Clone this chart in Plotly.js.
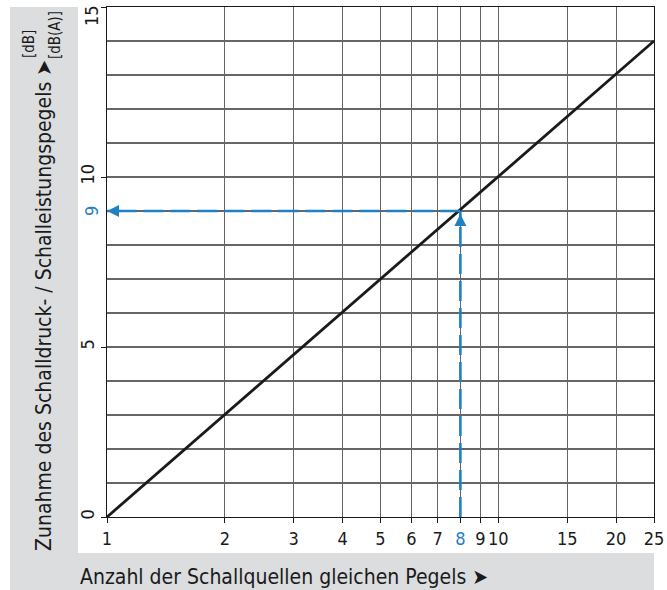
<!DOCTYPE html>
<html>
<head>
<meta charset="utf-8">
<script src="https://cdn.plot.ly/plotly-3.0.1.min.js"></script>
<style>html,body{margin:0;padding:0;background:#fff}#chart{width:667px;height:590px}</style>
</head>
<body>
<div id="chart"></div>
<script>
// Data
const lineX = [1, 25];            // number of sources
const lineY = [0, 14];            // level increase [dB]
const exampleX = 8;               // example: 8 sources
const exampleY = 9;               // -> +9 dB
const xTicks = [1, 2, 3, 4, 5, 6, 7, 8, 9, 10, 15, 20, 25];
const yTicks = [0, 5, 10, 15];
const yTitle = "Zunahme des Schalldruck- / Schalleistungspegels \u27A4";
const xTitle = "Anzahl der Schallquellen gleichen Pegels \u27A4";
const unit1 = "[dB]";
const unit2 = "[dB(A)]";

const FONT = '"Liberation Sans Narrow", "DejaVu Sans Condensed", "Roboto Condensed", Arial, sans-serif';
const BLUE = '#1f80c4';
const GREY = '#dcdddf';
const INK = '#1a1a1a';

const xTickText = xTicks.map(v => v === exampleX ? `<span style="color:${BLUE}">${v}</span>` : String(v));
const yTopTick = yTicks[yTicks.length - 1];
const yTickText = yTicks.map(v => v === yTopTick ? '' : String(v));

const traces = [
  {x: lineX, y: lineY, mode: 'lines', line: {color: INK, width: 2.8}, hoverinfo: 'skip'},
  {x: [exampleX, lineX[0]], y: [exampleY, exampleY], mode: 'lines',
   line: {color: BLUE, width: 2.6, dash: '20px,7px'}, hoverinfo: 'skip'},
  {x: [exampleX, exampleX], y: [lineY[0], exampleY], mode: 'lines',
   line: {color: BLUE, width: 2.6, dash: '20px,7px'}, hoverinfo: 'skip'}
];

// plot geometry (px)
const L = 107, R = 13, T = 7, B = 73, W = 667, H = 590;
const pw = W - L - R, ph = H - T - B;
const px2x = p => (p - L) / pw;
const py2y = p => (H - B - p) / ph;

const layout = {
  width: W, height: H,
  margin: {l: L, r: R, t: T, b: B, pad: 0},
  paper_bgcolor: '#ffffff', plot_bgcolor: '#ffffff',
  showlegend: false,
  font: {family: FONT, color: INK, size: 16},
  xaxis: {
    type: 'log', range: [Math.log10(lineX[0]), Math.log10(lineX[1])],
    tickmode: 'array', tickvals: xTicks, ticktext: xTickText,
    showgrid: true, gridcolor: '#666666', gridwidth: 1.1,
    showline: true, linecolor: INK, linewidth: 1.2, mirror: true,
    ticks: 'outside', ticklen: 5, tickcolor: INK,
    tickfont: {family: FONT, size: 18, color: INK},
    zeroline: false, fixedrange: true
  },
  yaxis: {
    range: [0, 15],
    tickmode: 'array', tickvals: yTicks, ticktext: yTickText,
    tickangle: -90,
    showgrid: true, gridcolor: '#666666', gridwidth: 1.1,
    minor: {dtick: 1, showgrid: true, gridcolor: '#666666', gridwidth: 1.1, ticks: ''},
    showline: true, linecolor: INK, linewidth: 1.2, mirror: true,
    ticks: 'outside', ticklen: 5, tickcolor: INK,
    tickfont: {family: FONT, size: 18, color: INK},
    zeroline: false, fixedrange: true
  },
  shapes: [
    {type: 'rect', xref: 'paper', yref: 'paper', layer: 'below',
     x0: px2x(10), x1: px2x(78), y0: py2y(590), y1: py2y(7),
     fillcolor: GREY, line: {width: 0}},
    {type: 'rect', xref: 'paper', yref: 'paper', layer: 'below',
     x0: px2x(10), x1: px2x(654), y0: py2y(590), y1: py2y(553),
     fillcolor: GREY, line: {width: 0}}
  ],
  annotations: [
    // arrowheads of the example
    {x: Math.log10(lineX[0]), y: exampleY, xref: 'x', yref: 'y', ax: 14, ay: 0,
     showarrow: true, arrowhead: 2, arrowsize: 1, arrowwidth: 2.4, arrowcolor: BLUE, text: ''},
    {x: Math.log10(exampleX), y: exampleY, xref: 'x', yref: 'y', ax: 0, ay: 14,
     showarrow: true, arrowhead: 2, arrowsize: 1, arrowwidth: 2.4, arrowcolor: BLUE, text: '', standoff: 3},
    // blue 9 tick label
    {x: 0, y: exampleY, xref: 'paper', yref: 'y', xshift: -16, text: String(exampleY), textangle: -90,
     showarrow: false, font: {family: FONT, size: 18, color: BLUE}, xanchor: 'center', yanchor: 'middle'},
    // top tick label 15 (kept inside the picture)
    {x: 0, y: 1, xref: 'paper', yref: 'paper', xshift: -16, yshift: -9, text: String(yTopTick), textangle: -90,
     showarrow: false, font: {family: FONT, size: 18, color: INK}, xanchor: 'center', yanchor: 'middle'},
    // y title
    {x: 0, y: 0, xref: 'paper', yref: 'paper', xshift: 44 - L, yshift: (H - B) - 306,
     text: yTitle, textangle: -90, showarrow: false, xanchor: 'center', yanchor: 'middle',
     font: {family: FONT, size: 21, color: INK}},
    {x: 0, y: 0, xref: 'paper', yref: 'paper', xshift: 29 - L, yshift: (H - B) - 44,
     text: unit1, textangle: -90, showarrow: false, xanchor: 'center', yanchor: 'middle',
     font: {family: FONT, size: 15, color: INK}},
    {x: 0, y: 0, xref: 'paper', yref: 'paper', xshift: 55 - L, yshift: (H - B) - 35,
     text: unit2, textangle: -90, showarrow: false, xanchor: 'center', yanchor: 'middle',
     font: {family: FONT, size: 15, color: INK}},
    // x title
    {x: 0, y: 0, xref: 'paper', yref: 'paper', xshift: 78 - L, yshift: (H - B) - 577,
     text: xTitle, showarrow: false, xanchor: 'left', yanchor: 'middle',
     font: {family: FONT, size: 21, color: INK}}
  ]
};

Plotly.newPlot('chart', traces, layout, {displayModeBar: false, staticPlot: true});
</script>
</body>
</html>
